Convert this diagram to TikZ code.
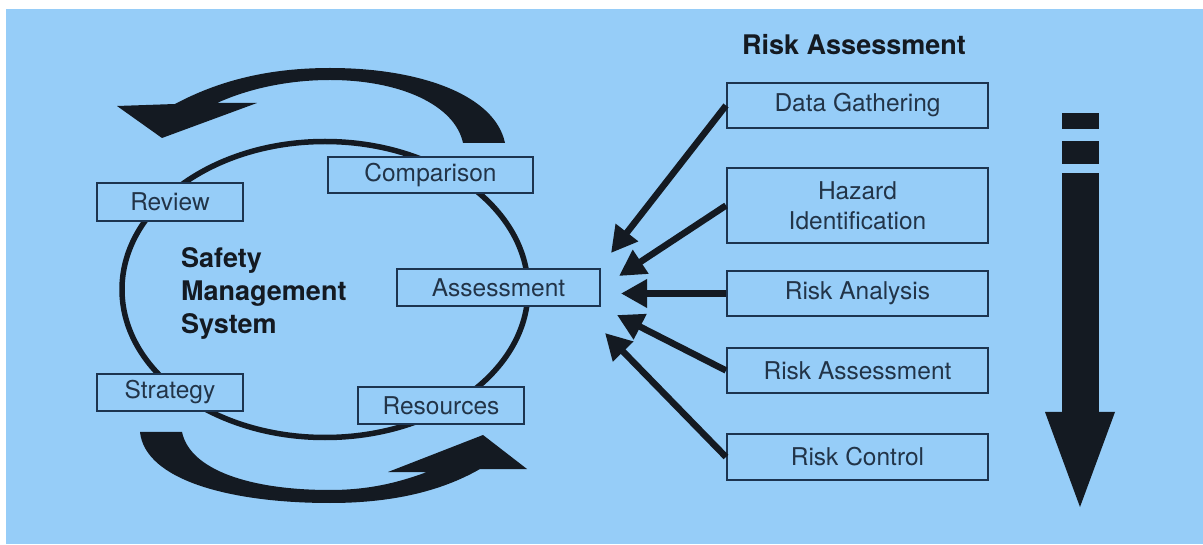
\documentclass[tikz,border=0pt]{standalone}
\usepackage{fontspec}
\setmainfont{TeX Gyre Heros}
\usetikzlibrary{arrows.meta}
\definecolor{bg}{RGB}{150,205,248}
\definecolor{ink}{RGB}{20,26,34}
\definecolor{boxline}{RGB}{28,52,80}
\definecolor{txt}{RGB}{34,52,72}
\begin{document}
\begin{tikzpicture}[x=1pt,y=-1pt,
  box/.style={draw=boxline,line width=2pt,fill=bg,inner sep=0pt,text=txt,
    font=\fontsize{24.5}{30}\selectfont,align=center},
  conn/.style={draw=ink,line width=6.5pt,-{Triangle[length=26pt,width=27pt]}},
  band/.style={fill=ink},
  heading/.style={text=ink,font=\bfseries\fontsize{27}{33}\selectfont,inner sep=0pt}
  ]
\useasboundingbox (0,0) rectangle (1203,545);
\fill[white] (0,0) rectangle (1203,545);
\fill[bg] (6,9) rectangle (1203,544);

% cycle ellipse
\draw[ink,line width=5.5pt] (325,289.5) ellipse [x radius=203pt, y radius=148pt];

% top curved arrow
\fill[band] (117,106) -- (162,138) -- (257,103) -- (217,103)
  .. controls (250,88) and (290,80) .. (330,80)
  .. controls (400,80) and (455,105) .. (463,143)
  -- (505,143)
  .. controls (495,95) and (420,68) .. (330,68)
  .. controls (270,68) and (220,80) .. (175,104) -- cycle;

% bottom curved arrow
\fill[band] (527,469) -- (483,435) -- (388,472) -- (427,472)
  .. controls (400,482) and (370,490) .. (330,490)
  .. controls (250,490) and (190,470) .. (182,432)
  -- (140,432)
  .. controls (145,480) and (230,503) .. (330,503)
  .. controls (390,503) and (440,492) .. (480,469) -- cycle;

% left boxes
\node[box,minimum width=205pt,minimum height=36pt] (cmp) at (430.5,175) {Comparison};
\node[box,minimum width=146pt,minimum height=38pt] (rev) at (170,202) {Review};
\node[box,minimum width=203pt,minimum height=37pt] (asm) at (498.5,287.5) {Assessment};
\node[box,minimum width=146pt,minimum height=37pt] (str) at (170,392.5) {Strategy};
\node[box,minimum width=166pt,minimum height=37pt] (res) at (441,405.5) {Resources};
\node[heading,anchor=west,align=left] (sms) at (181,293) {Safety\\Management\\System};

% right boxes
\node[heading] (title) at (854,45) {Risk Assessment};
\node[box,minimum width=261pt,minimum height=45pt] (dg) at (857.5,105.5) {Data Gathering};
\node[box,minimum width=261pt,minimum height=75pt] (hz) at (857.5,205.5) {Hazard\\Identification};
\node[box,minimum width=261pt,minimum height=45pt] (ra) at (857.5,293.5) {Risk Analysis};
\node[box,minimum width=261pt,minimum height=45pt] (rs) at (857.5,370.5) {Risk Assessment};
\node[box,minimum width=261pt,minimum height=45pt] (rc) at (857.5,457) {Risk Control};

% connector tips
\coordinate (t1) at (611,253);
\coordinate (t2) at (619,276);
\coordinate (t3) at (621,293.5);
\coordinate (t4) at (617,315);
\coordinate (t5) at (605,333);
\draw[conn] (dg.west) -- (t1);
\draw[conn] (hz.west) -- (t2);
\draw[conn] (ra.west) -- (t3);
\draw[conn] (rs.west) -- (t4);
\draw[conn] (rc.west) -- (t5);

% big down arrow
\fill[ink] (1062,113) rectangle (1099,129);
\fill[ink] (1062,141) rectangle (1099,164);
\fill[ink] (1062,173) rectangle (1099,413);
\fill[ink] (1045,412) -- (1115,412) -- (1080,507) -- cycle;
\end{tikzpicture}
\end{document}
